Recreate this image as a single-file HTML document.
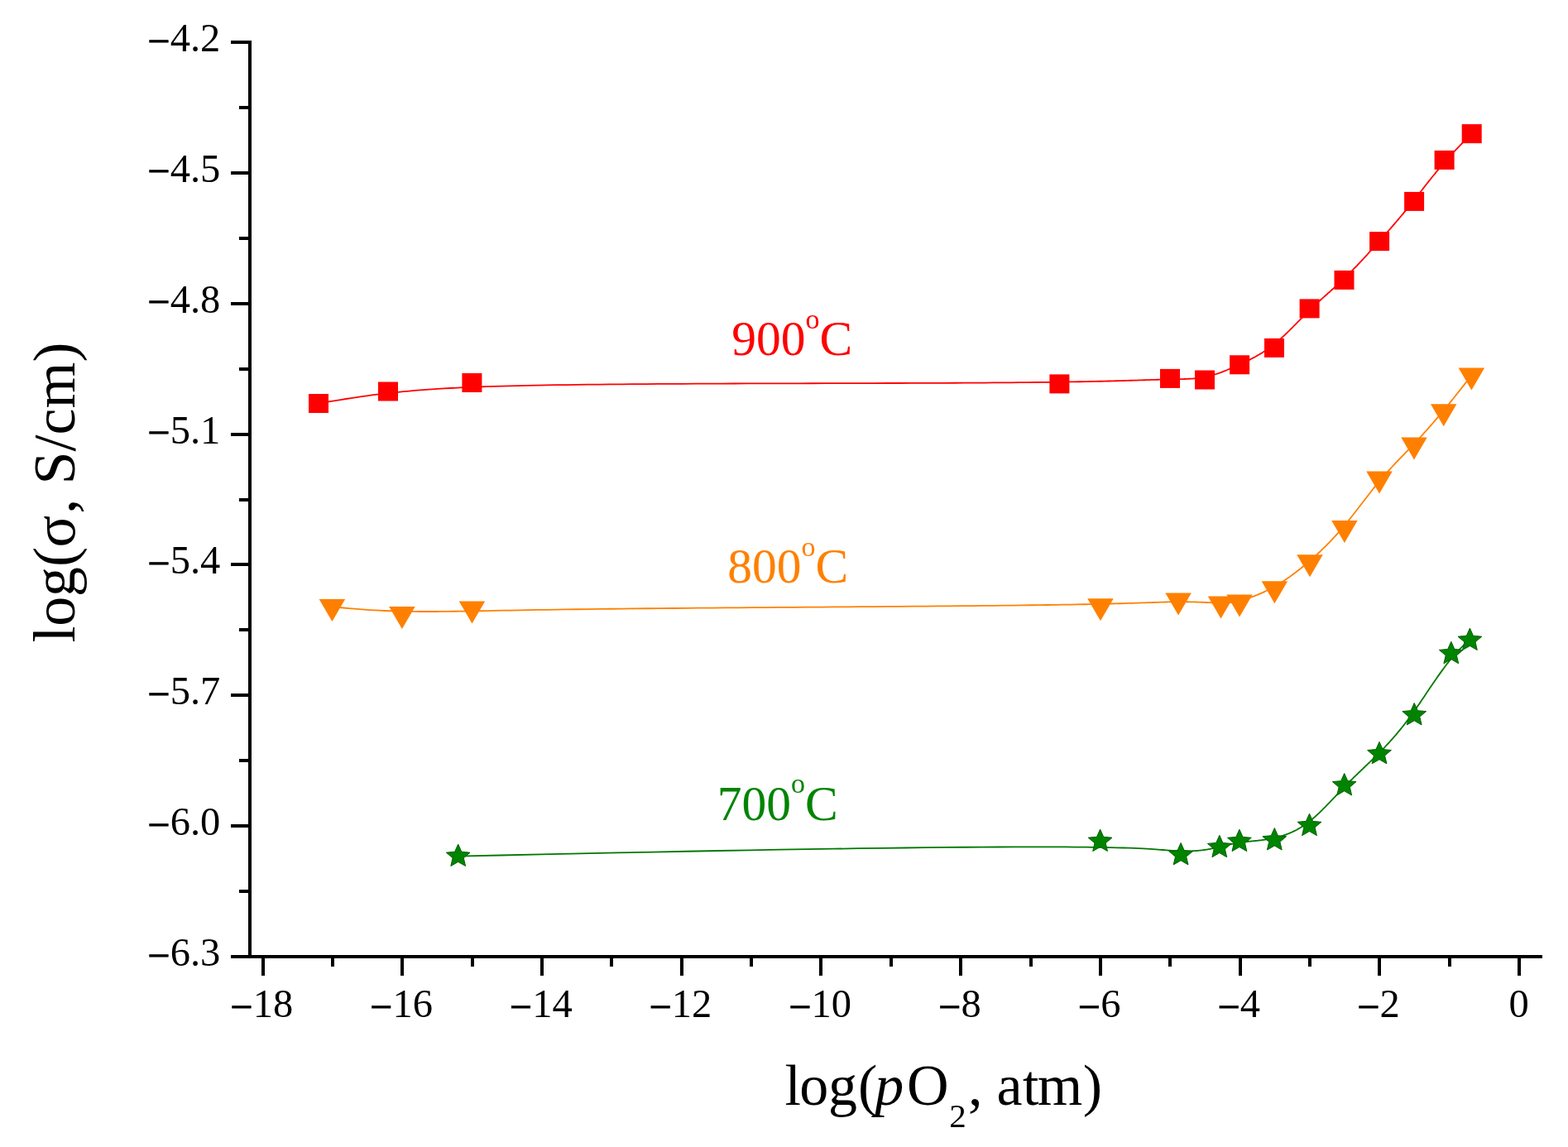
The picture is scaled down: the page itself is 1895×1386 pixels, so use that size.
<!DOCTYPE html><html><head><meta charset="utf-8"><title>log(σ) vs log(pO2)</title>
<style>html,body{margin:0;padding:0;background:#fff;}body{width:1895px;height:1386px;overflow:hidden;}svg{display:block;}text{font-family:"Liberation Serif","Times New Roman",serif;}</style></head><body>
<svg width="1895" height="1386" viewBox="0 0 1895 1386">
<rect width="1895" height="1386" fill="#fff"/>
<g fill="#000" shape-rendering="crispEdges">
<rect x="300" y="49" width="4" height="1109"/>
<rect x="300" y="1154" width="1564" height="4"/>
<rect x="279" y="49.0" width="21" height="4"/>
<rect x="289" y="127.9" width="11" height="4"/>
<rect x="279" y="206.9" width="21" height="4"/>
<rect x="289" y="285.8" width="11" height="4"/>
<rect x="279" y="364.7" width="21" height="4"/>
<rect x="289" y="443.6" width="11" height="4"/>
<rect x="279" y="522.6" width="21" height="4"/>
<rect x="289" y="601.5" width="11" height="4"/>
<rect x="279" y="680.4" width="21" height="4"/>
<rect x="289" y="759.4" width="11" height="4"/>
<rect x="279" y="838.3" width="21" height="4"/>
<rect x="289" y="917.2" width="11" height="4"/>
<rect x="279" y="996.1" width="21" height="4"/>
<rect x="289" y="1075.1" width="11" height="4"/>
<rect x="279" y="1154.0" width="21" height="4"/>
<rect x="315.6" y="1158" width="4" height="21"/>
<rect x="400.0" y="1158" width="4" height="10"/>
<rect x="484.3" y="1158" width="4" height="21"/>
<rect x="568.7" y="1158" width="4" height="10"/>
<rect x="653.0" y="1158" width="4" height="21"/>
<rect x="737.4" y="1158" width="4" height="10"/>
<rect x="821.7" y="1158" width="4" height="21"/>
<rect x="906.1" y="1158" width="4" height="10"/>
<rect x="990.4" y="1158" width="4" height="21"/>
<rect x="1074.8" y="1158" width="4" height="10"/>
<rect x="1159.2" y="1158" width="4" height="21"/>
<rect x="1243.5" y="1158" width="4" height="10"/>
<rect x="1327.9" y="1158" width="4" height="21"/>
<rect x="1412.2" y="1158" width="4" height="10"/>
<rect x="1496.6" y="1158" width="4" height="21"/>
<rect x="1580.9" y="1158" width="4" height="10"/>
<rect x="1665.3" y="1158" width="4" height="21"/>
<rect x="1749.7" y="1158" width="4" height="10"/>
<rect x="1834.0" y="1158" width="4" height="21"/>
</g>
<g font-size="48.5" fill="#000">
<text x="266.3" y="61.9" text-anchor="end"><tspan dy="3.6" stroke="#000" stroke-width="0.7">−</tspan><tspan dy="-3.6">4.2</tspan></text>
<text x="266.3" y="219.8" text-anchor="end"><tspan dy="3.6" stroke="#000" stroke-width="0.7">−</tspan><tspan dy="-3.6">4.5</tspan></text>
<text x="266.3" y="377.6" text-anchor="end"><tspan dy="3.6" stroke="#000" stroke-width="0.7">−</tspan><tspan dy="-3.6">4.8</tspan></text>
<text x="266.3" y="535.5" text-anchor="end"><tspan dy="3.6" stroke="#000" stroke-width="0.7">−</tspan><tspan dy="-3.6">5.1</tspan></text>
<text x="266.3" y="693.3" text-anchor="end"><tspan dy="3.6" stroke="#000" stroke-width="0.7">−</tspan><tspan dy="-3.6">5.4</tspan></text>
<text x="266.3" y="851.2" text-anchor="end"><tspan dy="3.6" stroke="#000" stroke-width="0.7">−</tspan><tspan dy="-3.6">5.7</tspan></text>
<text x="266.3" y="1009.0" text-anchor="end"><tspan dy="3.6" stroke="#000" stroke-width="0.7">−</tspan><tspan dy="-3.6">6.0</tspan></text>
<text x="266.3" y="1166.9" text-anchor="end"><tspan dy="3.6" stroke="#000" stroke-width="0.7">−</tspan><tspan dy="-3.6">6.3</tspan></text>
<text x="316.3" y="1229" text-anchor="middle"><tspan dy="3.6" stroke="#000" stroke-width="0.7">−</tspan><tspan dy="-3.6">18</tspan></text>
<text x="485.0" y="1229" text-anchor="middle"><tspan dy="3.6" stroke="#000" stroke-width="0.7">−</tspan><tspan dy="-3.6">16</tspan></text>
<text x="653.7" y="1229" text-anchor="middle"><tspan dy="3.6" stroke="#000" stroke-width="0.7">−</tspan><tspan dy="-3.6">14</tspan></text>
<text x="822.4" y="1229" text-anchor="middle"><tspan dy="3.6" stroke="#000" stroke-width="0.7">−</tspan><tspan dy="-3.6">12</tspan></text>
<text x="991.1" y="1229" text-anchor="middle"><tspan dy="3.6" stroke="#000" stroke-width="0.7">−</tspan><tspan dy="-3.6">10</tspan></text>
<text x="1159.9" y="1229" text-anchor="middle"><tspan dy="3.6" stroke="#000" stroke-width="0.7">−</tspan><tspan dy="-3.6">8</tspan></text>
<text x="1328.6" y="1229" text-anchor="middle"><tspan dy="3.6" stroke="#000" stroke-width="0.7">−</tspan><tspan dy="-3.6">6</tspan></text>
<text x="1497.3" y="1229" text-anchor="middle"><tspan dy="3.6" stroke="#000" stroke-width="0.7">−</tspan><tspan dy="-3.6">4</tspan></text>
<text x="1666.0" y="1229" text-anchor="middle"><tspan dy="3.6" stroke="#000" stroke-width="0.7">−</tspan><tspan dy="-3.6">2</tspan></text>
<text x="1835.5" y="1229" text-anchor="middle">0</text>
</g>
<text y="1334.5" font-size="70" fill="#000"><tspan x="948.45 966.3 1000.9 1037.1">log(</tspan><tspan x="1057.3" font-style="italic">p</tspan><tspan x="1096.1">O</tspan><tspan x="1147.2" y="1361.8" font-size="41">2</tspan><tspan x="1170.1 1187.6 1204.4 1236 1253.7 1308.8" y="1334.5">, atm)</tspan></text>
<text transform="translate(89.5,775) rotate(-90)" y="0" font-size="72" fill="#000"><tspan x="-1.44 18.26 53.9 90.1 113.5 154.3 172.3 189.6 229.6 249.5 281.5 337.5">log(σ, S/cm)</tspan></text>
<path d="M385.00 487.50 L391.87 486.32 L398.61 485.18 L405.23 484.09 L411.74 483.03 L418.17 482.01 L424.52 481.03 L430.82 480.09 L437.07 479.19 L443.31 478.32 L449.53 477.48 L455.76 476.68 L462.01 475.91 L468.30 475.18 L474.64 474.48 L481.06 473.80 L487.56 473.16 L494.16 472.55 L500.88 471.97 L507.74 471.41 L514.74 470.88 L521.92 470.38 L529.27 469.90 L536.82 469.45 L544.58 469.02 L552.57 468.61 L560.81 468.22 L569.31 467.86 L578.09 467.52 L587.15 467.19 L596.53 466.89 L606.23 466.60 L616.27 466.33 L626.67 466.08 L637.44 465.84 L648.60 465.62 L660.16 465.41 L672.14 465.22 L684.52 465.04 L697.29 464.87 L710.42 464.71 L723.88 464.56 L737.65 464.42 L751.72 464.30 L766.04 464.18 L780.61 464.07 L795.39 463.97 L810.37 463.88 L825.51 463.79 L840.81 463.72 L856.22 463.64 L871.73 463.58 L887.31 463.52 L902.95 463.46 L918.61 463.41 L934.27 463.37 L949.91 463.32 L965.51 463.28 L981.04 463.24 L996.47 463.20 L1011.79 463.17 L1026.97 463.13 L1041.99 463.09 L1056.82 463.06 L1071.44 463.02 L1085.82 462.98 L1099.95 462.94 L1113.79 462.90 L1127.32 462.85 L1140.53 462.80 L1153.38 462.74 L1165.85 462.69 L1177.93 462.62 L1189.57 462.55 L1200.79 462.47 L1211.58 462.39 L1221.96 462.31 L1231.94 462.22 L1241.52 462.12 L1250.72 462.02 L1259.55 461.92 L1268.01 461.81 L1276.13 461.70 L1283.90 461.58 L1291.34 461.47 L1298.46 461.35 L1305.26 461.23 L1311.77 461.11 L1317.98 460.99 L1323.91 460.86 L1329.57 460.74 L1334.97 460.61 L1340.12 460.49 L1345.03 460.37 L1349.71 460.24 L1354.17 460.12 L1358.42 460.00 L1362.47 459.89 L1366.33 459.77 L1370.01 459.66 L1373.52 459.55 L1376.87 459.44 L1380.07 459.34 L1383.14 459.24 L1386.07 459.14 L1388.89 459.05 L1391.60 458.96 L1394.21 458.88 L1396.73 458.81 L1399.17 458.74 L1401.55 458.67 L1403.85 458.62 L1406.09 458.56 L1408.27 458.51 L1410.39 458.47 L1412.44 458.43 L1414.44 458.39 L1416.38 458.35 L1418.27 458.31 L1420.11 458.28 L1421.89 458.24 L1423.63 458.21 L1425.33 458.17 L1426.97 458.13 L1428.58 458.09 L1430.14 458.05 L1431.67 458.00 L1433.16 457.95 L1434.62 457.90 L1436.04 457.84 L1437.43 457.77 L1438.79 457.70 L1440.13 457.62 L1441.44 457.54 L1442.73 457.45 L1443.99 457.34 L1445.24 457.23 L1446.47 457.11 L1447.68 456.98 L1448.88 456.84 L1450.07 456.68 L1451.25 456.52 L1452.42 456.34 L1453.59 456.15 L1454.75 455.94 L1455.91 455.72 L1457.07 455.49 L1458.23 455.24 L1459.39 454.97 L1460.55 454.69 L1461.71 454.40 L1462.87 454.10 L1464.03 453.78 L1465.19 453.45 L1466.35 453.11 L1467.51 452.75 L1468.67 452.39 L1469.83 452.01 L1470.99 451.62 L1472.15 451.23 L1473.31 450.82 L1474.47 450.40 L1475.62 449.98 L1476.78 449.54 L1477.94 449.10 L1479.10 448.65 L1480.26 448.19 L1481.42 447.72 L1482.58 447.25 L1483.74 446.77 L1484.90 446.28 L1486.06 445.79 L1487.22 445.29 L1488.38 444.79 L1489.54 444.28 L1490.70 443.77 L1491.85 443.25 L1493.01 442.73 L1494.17 442.21 L1495.33 441.69 L1496.49 441.16 L1497.65 440.63 L1498.80 440.09 L1499.96 439.56 L1501.12 439.02 L1502.28 438.48 L1503.43 437.94 L1504.59 437.39 L1505.75 436.84 L1506.91 436.28 L1508.06 435.72 L1509.22 435.15 L1510.38 434.57 L1511.54 433.99 L1512.69 433.40 L1513.85 432.80 L1515.01 432.19 L1516.17 431.58 L1517.32 430.95 L1518.48 430.31 L1519.64 429.66 L1520.80 429.00 L1521.96 428.33 L1523.12 427.65 L1524.27 426.95 L1525.43 426.24 L1526.59 425.52 L1527.75 424.78 L1528.91 424.02 L1530.07 423.25 L1531.24 422.47 L1532.40 421.67 L1533.56 420.85 L1534.72 420.01 L1535.88 419.15 L1537.05 418.28 L1538.21 417.39 L1539.38 416.47 L1540.54 415.54 L1541.71 414.59 L1542.87 413.62 L1544.04 412.62 L1545.20 411.61 L1546.37 410.59 L1547.54 409.55 L1548.71 408.49 L1549.87 407.42 L1551.04 406.33 L1552.21 405.23 L1553.38 404.12 L1554.55 403.00 L1555.72 401.87 L1556.89 400.73 L1558.06 399.58 L1559.23 398.42 L1560.40 397.26 L1561.57 396.09 L1562.74 394.91 L1563.90 393.74 L1565.07 392.55 L1566.24 391.37 L1567.41 390.18 L1568.58 388.99 L1569.75 387.80 L1570.92 386.62 L1572.09 385.43 L1573.26 384.25 L1574.42 383.07 L1575.59 381.89 L1576.76 380.72 L1577.93 379.55 L1579.09 378.39 L1580.26 377.24 L1581.42 376.10 L1582.59 374.96 L1583.75 373.84 L1584.92 372.72 L1586.08 371.62 L1587.24 370.52 L1588.41 369.43 L1589.57 368.35 L1590.73 367.27 L1591.89 366.20 L1593.05 365.13 L1594.22 364.07 L1595.38 363.02 L1596.54 361.97 L1597.70 360.92 L1598.86 359.87 L1600.02 358.83 L1601.18 357.79 L1602.34 356.75 L1603.50 355.71 L1604.66 354.67 L1605.82 353.63 L1606.98 352.60 L1608.14 351.56 L1609.30 350.51 L1610.46 349.47 L1611.62 348.42 L1612.78 347.37 L1613.94 346.31 L1615.10 345.25 L1616.26 344.19 L1617.43 343.12 L1618.59 342.04 L1619.75 340.96 L1620.91 339.87 L1622.08 338.77 L1623.24 337.67 L1624.40 336.55 L1625.57 335.43 L1626.74 334.30 L1627.90 333.16 L1629.07 332.01 L1630.23 330.85 L1631.40 329.68 L1632.57 328.50 L1633.74 327.32 L1634.91 326.13 L1636.07 324.93 L1637.24 323.73 L1638.41 322.52 L1639.58 321.30 L1640.75 320.07 L1641.92 318.84 L1643.09 317.60 L1644.26 316.36 L1645.43 315.11 L1646.60 313.86 L1647.77 312.60 L1648.94 311.34 L1650.11 310.07 L1651.28 308.80 L1652.45 307.52 L1653.62 306.24 L1654.79 304.96 L1655.96 303.67 L1657.13 302.38 L1658.30 301.08 L1659.46 299.79 L1660.63 298.49 L1661.80 297.19 L1662.97 295.88 L1664.14 294.58 L1665.30 293.27 L1666.47 291.96 L1667.64 290.65 L1668.80 289.34 L1669.97 288.03 L1671.13 286.71 L1672.30 285.39 L1673.47 284.07 L1674.64 282.75 L1675.81 281.42 L1676.98 280.08 L1678.15 278.74 L1679.33 277.39 L1680.51 276.04 L1681.69 274.68 L1682.87 273.31 L1684.06 271.93 L1685.25 270.55 L1686.44 269.15 L1687.64 267.75 L1688.85 266.33 L1690.05 264.91 L1691.27 263.47 L1692.49 262.02 L1693.71 260.56 L1694.94 259.08 L1696.18 257.59 L1697.42 256.09 L1698.67 254.57 L1699.92 253.04 L1701.19 251.49 L1702.46 249.92 L1703.74 248.34 L1705.02 246.74 L1706.32 245.13 L1707.62 243.49 L1708.94 241.84 L1710.26 240.16 L1711.59 238.47 L1712.93 236.76 L1714.28 235.02 L1715.65 233.26 L1717.03 231.49 L1718.43 229.69 L1719.85 227.87 L1721.28 226.02 L1722.74 224.16 L1724.22 222.27 L1725.73 220.36 L1727.26 218.43 L1728.82 216.47 L1730.40 214.48 L1732.02 212.48 L1733.67 210.45 L1735.36 208.39 L1737.08 206.31 L1738.84 204.20 L1740.64 202.07 L1742.47 199.91 L1744.35 197.73 L1746.28 195.52 L1748.25 193.28 L1750.26 191.01 L1752.33 188.72 L1754.44 186.40 L1756.61 184.05 L1758.83 181.67 L1761.10 179.27 L1763.44 176.83 L1765.83 174.37 L1768.27 171.88 L1770.78 169.35 L1773.36 166.80 L1776.00 164.21 L1778.70 161.60" fill="none" stroke="#ff0000" stroke-width="1.8" stroke-linejoin="round"/>
<path d="M401.40 733.10 L408.30 733.82 L415.02 734.48 L421.58 735.09 L428.01 735.64 L434.32 736.15 L440.54 736.61 L446.67 737.03 L452.74 737.40 L458.76 737.72 L464.76 738.01 L470.75 738.26 L476.75 738.47 L482.79 738.64 L488.87 738.78 L495.02 738.88 L501.26 738.96 L507.60 739.00 L514.06 739.02 L520.67 739.02 L527.43 738.98 L534.38 738.93 L541.52 738.86 L548.88 738.76 L556.47 738.65 L564.31 738.53 L572.43 738.39 L580.84 738.23 L589.55 738.07 L598.60 737.90 L607.99 737.72 L617.74 737.54 L627.87 737.35 L638.41 737.16 L649.37 736.97 L660.77 736.78 L672.62 736.59 L684.94 736.41 L697.73 736.23 L710.95 736.06 L724.58 735.90 L738.59 735.73 L752.95 735.57 L767.63 735.42 L782.61 735.27 L797.87 735.12 L813.36 734.98 L829.07 734.84 L844.97 734.70 L861.04 734.56 L877.24 734.43 L893.54 734.30 L909.93 734.17 L926.37 734.05 L942.83 733.92 L959.29 733.80 L975.73 733.67 L992.11 733.55 L1008.40 733.43 L1024.59 733.31 L1040.64 733.19 L1056.52 733.07 L1072.21 732.95 L1087.69 732.83 L1102.91 732.71 L1117.87 732.59 L1132.52 732.46 L1146.85 732.34 L1160.82 732.21 L1174.41 732.09 L1187.59 731.96 L1200.33 731.82 L1212.61 731.69 L1224.40 731.55 L1235.69 731.42 L1246.49 731.27 L1256.82 731.13 L1266.69 730.99 L1276.11 730.84 L1285.10 730.69 L1293.66 730.55 L1301.82 730.40 L1309.58 730.25 L1316.96 730.10 L1323.97 729.95 L1330.62 729.81 L1336.93 729.66 L1342.91 729.52 L1348.58 729.37 L1353.93 729.23 L1359.00 729.09 L1363.79 728.96 L1368.32 728.82 L1372.59 728.69 L1376.62 728.57 L1380.43 728.44 L1384.03 728.32 L1387.42 728.21 L1390.63 728.10 L1393.67 727.99 L1396.54 727.89 L1399.27 727.80 L1401.86 727.71 L1404.34 727.63 L1406.70 727.55 L1408.97 727.48 L1411.15 727.42 L1413.27 727.36 L1415.33 727.32 L1417.35 727.28 L1419.33 727.24 L1421.28 727.22 L1423.20 727.20 L1425.09 727.19 L1426.95 727.19 L1428.77 727.19 L1430.57 727.20 L1432.33 727.22 L1434.07 727.24 L1435.77 727.26 L1437.45 727.29 L1439.09 727.33 L1440.71 727.37 L1442.30 727.41 L1443.86 727.45 L1445.39 727.50 L1446.90 727.55 L1448.37 727.60 L1449.82 727.65 L1451.25 727.71 L1452.64 727.77 L1454.01 727.82 L1455.36 727.88 L1456.68 727.94 L1457.97 727.99 L1459.24 728.05 L1460.48 728.10 L1461.70 728.16 L1462.89 728.21 L1464.06 728.26 L1465.21 728.31 L1466.33 728.35 L1467.43 728.39 L1468.50 728.43 L1469.56 728.47 L1470.59 728.50 L1471.60 728.52 L1472.59 728.54 L1473.56 728.56 L1474.51 728.57 L1475.44 728.58 L1476.35 728.58 L1477.25 728.57 L1478.14 728.56 L1479.01 728.54 L1479.86 728.52 L1480.71 728.49 L1481.55 728.46 L1482.37 728.41 L1483.19 728.37 L1483.99 728.31 L1484.80 728.25 L1485.59 728.18 L1486.38 728.10 L1487.17 728.01 L1487.96 727.92 L1488.74 727.82 L1489.52 727.71 L1490.31 727.59 L1491.09 727.46 L1491.88 727.33 L1492.67 727.19 L1493.46 727.03 L1494.26 726.87 L1495.07 726.70 L1495.89 726.52 L1496.71 726.33 L1497.54 726.13 L1498.39 725.92 L1499.24 725.70 L1500.11 725.47 L1500.99 725.22 L1501.89 724.97 L1502.80 724.71 L1503.73 724.43 L1504.67 724.15 L1505.62 723.85 L1506.59 723.55 L1507.57 723.23 L1508.56 722.90 L1509.56 722.56 L1510.58 722.21 L1511.60 721.85 L1512.64 721.47 L1513.69 721.09 L1514.75 720.69 L1515.81 720.29 L1516.89 719.87 L1517.98 719.44 L1519.07 719.00 L1520.17 718.55 L1521.28 718.08 L1522.39 717.61 L1523.52 717.12 L1524.64 716.62 L1525.78 716.11 L1526.92 715.59 L1528.06 715.06 L1529.21 714.52 L1530.36 713.96 L1531.52 713.39 L1532.68 712.81 L1533.84 712.22 L1535.01 711.62 L1536.18 711.00 L1537.35 710.38 L1538.52 709.74 L1539.69 709.09 L1540.86 708.42 L1542.03 707.75 L1543.20 707.06 L1544.38 706.36 L1545.55 705.65 L1546.72 704.93 L1547.89 704.20 L1549.06 703.46 L1550.24 702.70 L1551.41 701.94 L1552.58 701.16 L1553.75 700.37 L1554.93 699.58 L1556.10 698.77 L1557.27 697.95 L1558.44 697.12 L1559.61 696.29 L1560.78 695.44 L1561.96 694.58 L1563.13 693.71 L1564.30 692.84 L1565.47 691.95 L1566.64 691.06 L1567.81 690.16 L1568.98 689.24 L1570.15 688.32 L1571.32 687.39 L1572.49 686.46 L1573.66 685.51 L1574.82 684.55 L1575.99 683.59 L1577.16 682.62 L1578.33 681.64 L1579.49 680.66 L1580.66 679.67 L1581.82 678.67 L1582.99 677.66 L1584.15 676.64 L1585.32 675.62 L1586.48 674.59 L1587.64 673.56 L1588.81 672.51 L1589.97 671.46 L1591.13 670.40 L1592.29 669.33 L1593.45 668.25 L1594.61 667.16 L1595.77 666.07 L1596.93 664.96 L1598.09 663.85 L1599.25 662.72 L1600.41 661.59 L1601.57 660.45 L1602.73 659.29 L1603.89 658.13 L1605.05 656.96 L1606.20 655.77 L1607.36 654.58 L1608.52 653.37 L1609.68 652.15 L1610.83 650.92 L1611.99 649.68 L1613.15 648.43 L1614.31 647.17 L1615.46 645.89 L1616.62 644.60 L1617.78 643.30 L1618.93 641.99 L1620.09 640.66 L1621.25 639.32 L1622.41 637.97 L1623.57 636.60 L1624.72 635.22 L1625.88 633.83 L1627.04 632.42 L1628.20 631.00 L1629.36 629.57 L1630.51 628.13 L1631.67 626.67 L1632.83 625.21 L1633.99 623.74 L1635.15 622.26 L1636.31 620.78 L1637.47 619.29 L1638.63 617.79 L1639.79 616.29 L1640.95 614.78 L1642.10 613.27 L1643.26 611.76 L1644.42 610.25 L1645.58 608.74 L1646.74 607.22 L1647.90 605.71 L1649.06 604.20 L1650.22 602.69 L1651.38 601.18 L1652.54 599.68 L1653.70 598.18 L1654.86 596.68 L1656.02 595.19 L1657.18 593.71 L1658.34 592.24 L1659.50 590.77 L1660.66 589.32 L1661.82 587.87 L1662.98 586.44 L1664.14 585.01 L1665.30 583.60 L1666.46 582.20 L1667.62 580.81 L1668.77 579.44 L1669.93 578.08 L1671.09 576.73 L1672.26 575.40 L1673.42 574.07 L1674.58 572.75 L1675.75 571.44 L1676.91 570.15 L1678.08 568.85 L1679.25 567.57 L1680.43 566.29 L1681.60 565.01 L1682.78 563.74 L1683.96 562.47 L1685.15 561.21 L1686.34 559.94 L1687.53 558.68 L1688.73 557.42 L1689.93 556.15 L1691.14 554.89 L1692.35 553.62 L1693.57 552.35 L1694.79 551.08 L1696.02 549.80 L1697.25 548.52 L1698.49 547.23 L1699.74 545.93 L1700.99 544.63 L1702.25 543.31 L1703.52 541.99 L1704.79 540.66 L1706.07 539.32 L1707.36 537.96 L1708.66 536.59 L1709.97 535.21 L1711.28 533.82 L1712.61 532.41 L1713.94 530.98 L1715.29 529.53 L1716.66 528.06 L1718.03 526.56 L1719.43 525.04 L1720.85 523.48 L1722.29 521.90 L1723.75 520.27 L1725.23 518.61 L1726.75 516.90 L1728.29 515.16 L1729.86 513.36 L1731.47 511.52 L1733.10 509.63 L1734.78 507.68 L1736.49 505.68 L1738.24 503.62 L1740.03 501.49 L1741.86 499.30 L1743.74 497.05 L1745.66 494.73 L1747.63 492.33 L1749.65 489.86 L1751.73 487.31 L1753.85 484.69 L1756.03 481.98 L1758.27 479.19 L1760.56 476.31 L1762.91 473.34 L1765.33 470.28 L1767.81 467.12 L1770.36 463.87 L1772.97 460.52 L1775.65 457.06 L1778.40 453.50" fill="none" stroke="#ff8000" stroke-width="1.8" stroke-linejoin="round"/>
<path d="M553.70 1034.70 L605.10 1033.52 L654.33 1032.42 L701.44 1031.40 L746.48 1030.44 L789.49 1029.56 L830.53 1028.75 L869.64 1028.01 L906.88 1027.33 L942.28 1026.71 L975.91 1026.15 L1007.81 1025.65 L1038.02 1025.21 L1066.60 1024.82 L1093.60 1024.48 L1119.06 1024.19 L1143.04 1023.95 L1165.58 1023.76 L1186.73 1023.60 L1206.54 1023.49 L1225.07 1023.41 L1242.35 1023.37 L1258.44 1023.37 L1273.38 1023.40 L1287.24 1023.45 L1300.04 1023.53 L1311.85 1023.64 L1322.71 1023.78 L1332.68 1023.93 L1341.79 1024.10 L1350.10 1024.29 L1357.66 1024.49 L1364.52 1024.70 L1370.72 1024.93 L1376.32 1025.16 L1381.36 1025.39 L1385.90 1025.63 L1389.97 1025.87 L1393.64 1026.11 L1396.94 1026.35 L1399.94 1026.58 L1402.67 1026.81 L1405.19 1027.02 L1407.54 1027.22 L1409.78 1027.41 L1411.95 1027.58 L1414.07 1027.73 L1416.13 1027.87 L1418.15 1027.99 L1420.13 1028.10 L1422.05 1028.19 L1423.93 1028.26 L1425.77 1028.32 L1427.56 1028.37 L1429.31 1028.40 L1431.02 1028.42 L1432.68 1028.43 L1434.31 1028.43 L1435.89 1028.41 L1437.44 1028.38 L1438.95 1028.34 L1440.42 1028.29 L1441.86 1028.23 L1443.26 1028.16 L1444.63 1028.08 L1445.96 1027.99 L1447.27 1027.89 L1448.54 1027.79 L1449.78 1027.67 L1450.99 1027.55 L1452.17 1027.42 L1453.32 1027.29 L1454.45 1027.14 L1455.55 1027.00 L1456.62 1026.84 L1457.67 1026.69 L1458.70 1026.52 L1459.70 1026.36 L1460.68 1026.19 L1461.64 1026.01 L1462.59 1025.84 L1463.51 1025.66 L1464.41 1025.48 L1465.30 1025.30 L1466.17 1025.11 L1467.02 1024.93 L1467.86 1024.74 L1468.69 1024.56 L1469.50 1024.37 L1470.30 1024.19 L1471.09 1024.01 L1471.87 1023.82 L1472.63 1023.64 L1473.39 1023.46 L1474.14 1023.29 L1474.88 1023.11 L1475.61 1022.93 L1476.33 1022.76 L1477.05 1022.59 L1477.76 1022.41 L1478.46 1022.24 L1479.15 1022.08 L1479.84 1021.91 L1480.53 1021.74 L1481.21 1021.58 L1481.88 1021.42 L1482.55 1021.26 L1483.22 1021.10 L1483.89 1020.94 L1484.55 1020.79 L1485.21 1020.63 L1485.87 1020.48 L1486.53 1020.33 L1487.19 1020.19 L1487.84 1020.04 L1488.50 1019.90 L1489.16 1019.76 L1489.82 1019.62 L1490.48 1019.48 L1491.15 1019.35 L1491.81 1019.21 L1492.49 1019.08 L1493.16 1018.96 L1493.84 1018.83 L1494.52 1018.71 L1495.21 1018.59 L1495.90 1018.47 L1496.60 1018.35 L1497.31 1018.24 L1498.02 1018.13 L1498.74 1018.02 L1499.47 1017.92 L1500.20 1017.82 L1500.95 1017.72 L1501.70 1017.62 L1502.47 1017.53 L1503.24 1017.43 L1504.02 1017.34 L1504.81 1017.26 L1505.61 1017.17 L1506.42 1017.08 L1507.23 1017.00 L1508.05 1016.92 L1508.88 1016.83 L1509.72 1016.75 L1510.56 1016.67 L1511.41 1016.59 L1512.27 1016.51 L1513.13 1016.42 L1514.00 1016.34 L1514.87 1016.25 L1515.75 1016.17 L1516.64 1016.08 L1517.53 1015.99 L1518.43 1015.90 L1519.33 1015.80 L1520.23 1015.70 L1521.14 1015.60 L1522.06 1015.50 L1522.98 1015.40 L1523.90 1015.29 L1524.82 1015.17 L1525.75 1015.05 L1526.68 1014.93 L1527.62 1014.81 L1528.56 1014.67 L1529.50 1014.54 L1530.44 1014.40 L1531.39 1014.25 L1532.33 1014.10 L1533.28 1013.94 L1534.23 1013.77 L1535.18 1013.60 L1536.13 1013.42 L1537.09 1013.24 L1538.04 1013.05 L1538.99 1012.85 L1539.95 1012.64 L1540.90 1012.42 L1541.86 1012.20 L1542.81 1011.97 L1543.76 1011.73 L1544.72 1011.48 L1545.67 1011.22 L1546.63 1010.95 L1547.58 1010.67 L1548.53 1010.39 L1549.49 1010.09 L1550.44 1009.79 L1551.39 1009.47 L1552.34 1009.15 L1553.30 1008.81 L1554.25 1008.47 L1555.20 1008.11 L1556.16 1007.74 L1557.11 1007.36 L1558.06 1006.97 L1559.01 1006.57 L1559.97 1006.16 L1560.92 1005.74 L1561.87 1005.30 L1562.82 1004.85 L1563.78 1004.39 L1564.73 1003.92 L1565.68 1003.43 L1566.63 1002.93 L1567.59 1002.42 L1568.54 1001.90 L1569.49 1001.36 L1570.44 1000.81 L1571.39 1000.24 L1572.35 999.67 L1573.30 999.07 L1574.25 998.47 L1575.20 997.84 L1576.15 997.21 L1577.11 996.56 L1578.06 995.89 L1579.01 995.21 L1579.96 994.52 L1580.91 993.80 L1581.87 993.08 L1582.82 992.33 L1583.77 991.58 L1584.72 990.80 L1585.67 990.01 L1586.62 989.21 L1587.58 988.39 L1588.53 987.56 L1589.48 986.72 L1590.43 985.86 L1591.38 985.00 L1592.34 984.12 L1593.29 983.23 L1594.24 982.33 L1595.19 981.42 L1596.14 980.50 L1597.10 979.57 L1598.05 978.63 L1599.00 977.69 L1599.95 976.73 L1600.90 975.77 L1601.86 974.81 L1602.81 973.83 L1603.76 972.86 L1604.71 971.87 L1605.67 970.88 L1606.62 969.89 L1607.57 968.89 L1608.52 967.89 L1609.47 966.89 L1610.43 965.89 L1611.38 964.88 L1612.33 963.87 L1613.28 962.86 L1614.24 961.85 L1615.19 960.85 L1616.14 959.84 L1617.09 958.83 L1618.05 957.82 L1619.00 956.82 L1619.95 955.82 L1620.91 954.82 L1621.86 953.83 L1622.81 952.83 L1623.76 951.85 L1624.72 950.87 L1625.67 949.89 L1626.62 948.92 L1627.58 947.95 L1628.53 946.99 L1629.48 946.03 L1630.44 945.08 L1631.39 944.13 L1632.34 943.19 L1633.30 942.25 L1634.25 941.31 L1635.20 940.38 L1636.16 939.44 L1637.11 938.51 L1638.06 937.59 L1639.02 936.66 L1639.97 935.74 L1640.92 934.82 L1641.88 933.90 L1642.83 932.99 L1643.78 932.07 L1644.74 931.15 L1645.69 930.24 L1646.64 929.33 L1647.60 928.41 L1648.55 927.50 L1649.51 926.58 L1650.46 925.67 L1651.41 924.76 L1652.37 923.84 L1653.32 922.92 L1654.27 922.01 L1655.23 921.09 L1656.18 920.16 L1657.13 919.24 L1658.09 918.32 L1659.04 917.39 L1659.99 916.46 L1660.95 915.52 L1661.90 914.59 L1662.85 913.65 L1663.81 912.71 L1664.76 911.76 L1665.71 910.81 L1666.67 909.85 L1667.62 908.89 L1668.57 907.93 L1669.53 906.96 L1670.48 905.98 L1671.43 905.00 L1672.39 904.01 L1673.35 903.01 L1674.31 902.00 L1675.27 900.99 L1676.24 899.96 L1677.20 898.92 L1678.17 897.88 L1679.15 896.82 L1680.12 895.74 L1681.10 894.66 L1682.09 893.56 L1683.08 892.44 L1684.07 891.31 L1685.07 890.17 L1686.08 889.01 L1687.09 887.83 L1688.10 886.63 L1689.12 885.42 L1690.15 884.18 L1691.19 882.93 L1692.23 881.66 L1693.28 880.36 L1694.33 879.05 L1695.40 877.71 L1696.47 876.35 L1697.55 874.96 L1698.64 873.55 L1699.74 872.12 L1700.85 870.66 L1701.97 869.18 L1703.09 867.67 L1704.23 866.13 L1705.38 864.56 L1706.54 862.97 L1707.71 861.35 L1708.89 859.69 L1710.08 858.01 L1711.28 856.30 L1712.50 854.55 L1713.73 852.77 L1714.97 850.96 L1716.22 849.12 L1717.49 847.25 L1718.76 845.36 L1720.05 843.44 L1721.35 841.50 L1722.66 839.54 L1723.98 837.57 L1725.31 835.58 L1726.65 833.58 L1728.01 831.57 L1729.37 829.55 L1730.74 827.53 L1732.12 825.50 L1733.50 823.47 L1734.90 821.44 L1736.30 819.41 L1737.72 817.39 L1739.14 815.37 L1740.57 813.37 L1742.00 811.37 L1743.44 809.39 L1744.89 807.43 L1746.35 805.48 L1747.81 803.55 L1749.28 801.65 L1750.75 799.77 L1752.23 797.92 L1753.71 796.10 L1755.20 794.30 L1756.69 792.54 L1758.19 790.82 L1759.69 789.14 L1761.20 787.49 L1762.71 785.89 L1764.22 784.33 L1765.73 782.81 L1767.25 781.35 L1768.77 779.93 L1770.29 778.57 L1771.82 777.27 L1773.34 776.02 L1774.87 774.83 L1776.40 773.70" fill="none" stroke="#007800" stroke-width="1.8" stroke-linejoin="round"/>
<rect x="373.00" y="476.00" width="24.0" height="23.0" fill="#ff0000"/>
<rect x="457.00" y="461.50" width="24.0" height="23.0" fill="#ff0000"/>
<rect x="558.40" y="451.00" width="24.0" height="23.0" fill="#ff0000"/>
<rect x="1268.40" y="452.40" width="24.0" height="23.0" fill="#ff0000"/>
<rect x="1402.00" y="445.90" width="24.0" height="23.0" fill="#ff0000"/>
<rect x="1444.00" y="447.50" width="24.0" height="23.0" fill="#ff0000"/>
<rect x="1486.10" y="429.30" width="24.0" height="23.0" fill="#ff0000"/>
<rect x="1528.00" y="408.90" width="24.0" height="23.0" fill="#ff0000"/>
<rect x="1570.60" y="361.40" width="24.0" height="23.0" fill="#ff0000"/>
<rect x="1612.50" y="326.90" width="24.0" height="23.0" fill="#ff0000"/>
<rect x="1655.10" y="280.10" width="24.0" height="23.0" fill="#ff0000"/>
<rect x="1697.10" y="231.90" width="24.0" height="23.0" fill="#ff0000"/>
<rect x="1733.60" y="181.90" width="24.0" height="23.0" fill="#ff0000"/>
<rect x="1766.70" y="150.10" width="24.0" height="23.0" fill="#ff0000"/>
<path d="M385.65 724.10H417.15L401.40 751.10Z" fill="#ff8000"/>
<path d="M470.15 733.10H501.65L485.90 760.10Z" fill="#ff8000"/>
<path d="M554.75 726.40H586.25L570.50 753.40Z" fill="#ff8000"/>
<path d="M1314.25 723.20H1345.75L1330.00 750.20Z" fill="#ff8000"/>
<path d="M1408.35 716.50H1439.85L1424.10 743.50Z" fill="#ff8000"/>
<path d="M1459.75 720.50H1491.25L1475.50 747.50Z" fill="#ff8000"/>
<path d="M1482.25 718.50H1513.75L1498.00 745.50Z" fill="#ff8000"/>
<path d="M1524.65 702.30H1556.15L1540.40 729.30Z" fill="#ff8000"/>
<path d="M1567.25 670.30H1598.75L1583.00 697.30Z" fill="#ff8000"/>
<path d="M1609.15 629.00H1640.65L1624.90 656.00Z" fill="#ff8000"/>
<path d="M1651.25 569.50H1682.75L1667.00 596.50Z" fill="#ff8000"/>
<path d="M1693.25 528.40H1724.75L1709.00 555.40Z" fill="#ff8000"/>
<path d="M1728.95 488.20H1760.45L1744.70 515.20Z" fill="#ff8000"/>
<path d="M1762.65 444.50H1794.15L1778.40 471.50Z" fill="#ff8000"/>
<path d="M553.70 1020.10 L557.78 1029.28 L568.07 1030.19 L560.30 1036.77 L562.58 1046.51 L553.70 1041.40 L544.82 1046.51 L547.10 1036.77 L539.33 1030.19 L549.62 1029.28Z" fill="#008400" stroke="#005f00" stroke-width="1" stroke-linejoin="miter"/>
<path d="M1329.60 1002.10 L1333.68 1011.28 L1343.97 1012.19 L1336.20 1018.77 L1338.48 1028.51 L1329.60 1023.40 L1320.72 1028.51 L1323.00 1018.77 L1315.23 1012.19 L1325.52 1011.28Z" fill="#008400" stroke="#005f00" stroke-width="1" stroke-linejoin="miter"/>
<path d="M1427.10 1018.50 L1431.18 1027.68 L1441.47 1028.59 L1433.70 1035.17 L1435.98 1044.91 L1427.10 1039.80 L1418.22 1044.91 L1420.50 1035.17 L1412.73 1028.59 L1423.02 1027.68Z" fill="#008400" stroke="#005f00" stroke-width="1" stroke-linejoin="miter"/>
<path d="M1473.80 1009.30 L1477.88 1018.48 L1488.17 1019.39 L1480.40 1025.97 L1482.68 1035.71 L1473.80 1030.60 L1464.92 1035.71 L1467.20 1025.97 L1459.43 1019.39 L1469.72 1018.48Z" fill="#008400" stroke="#005f00" stroke-width="1" stroke-linejoin="miter"/>
<path d="M1497.90 1002.20 L1501.98 1011.38 L1512.27 1012.29 L1504.50 1018.87 L1506.78 1028.61 L1497.90 1023.50 L1489.02 1028.61 L1491.30 1018.87 L1483.53 1012.29 L1493.82 1011.38Z" fill="#008400" stroke="#005f00" stroke-width="1" stroke-linejoin="miter"/>
<path d="M1540.30 1000.60 L1544.38 1009.78 L1554.67 1010.69 L1546.90 1017.27 L1549.18 1027.01 L1540.30 1021.90 L1531.42 1027.01 L1533.70 1017.27 L1525.93 1010.69 L1536.22 1009.78Z" fill="#008400" stroke="#005f00" stroke-width="1" stroke-linejoin="miter"/>
<path d="M1582.50 983.20 L1586.58 992.38 L1596.87 993.29 L1589.10 999.87 L1591.38 1009.61 L1582.50 1004.50 L1573.62 1009.61 L1575.90 999.87 L1568.13 993.29 L1578.42 992.38Z" fill="#008400" stroke="#005f00" stroke-width="1" stroke-linejoin="miter"/>
<path d="M1624.70 934.50 L1628.78 943.68 L1639.07 944.59 L1631.30 951.17 L1633.58 960.91 L1624.70 955.80 L1615.82 960.91 L1618.10 951.17 L1610.33 944.59 L1620.62 943.68Z" fill="#008400" stroke="#005f00" stroke-width="1" stroke-linejoin="miter"/>
<path d="M1667.00 896.40 L1671.08 905.58 L1681.37 906.49 L1673.60 913.07 L1675.88 922.81 L1667.00 917.70 L1658.12 922.81 L1660.40 913.07 L1652.63 906.49 L1662.92 905.58Z" fill="#008400" stroke="#005f00" stroke-width="1" stroke-linejoin="miter"/>
<path d="M1709.20 849.50 L1713.28 858.68 L1723.57 859.59 L1715.80 866.17 L1718.08 875.91 L1709.20 870.80 L1700.32 875.91 L1702.60 866.17 L1694.83 859.59 L1705.12 858.68Z" fill="#008400" stroke="#005f00" stroke-width="1" stroke-linejoin="miter"/>
<path d="M1753.80 775.30 L1757.88 784.48 L1768.17 785.39 L1760.40 791.97 L1762.68 801.71 L1753.80 796.60 L1744.92 801.71 L1747.20 791.97 L1739.43 785.39 L1749.72 784.48Z" fill="#008400" stroke="#005f00" stroke-width="1" stroke-linejoin="miter"/>
<path d="M1776.40 759.10 L1780.48 768.28 L1790.77 769.19 L1783.00 775.77 L1785.28 785.51 L1776.40 780.40 L1767.52 785.51 L1769.80 775.77 L1762.03 769.19 L1772.32 768.28Z" fill="#008400" stroke="#005f00" stroke-width="1" stroke-linejoin="miter"/>
<text x="884.2" y="429.1" font-size="59.5" fill="#ff0000">900<tspan font-size="34" dy="-32.5">o</tspan><tspan dy="32.5">C</tspan></text>
<text x="879.3" y="704.3" font-size="59.5" fill="#ff8000">800<tspan font-size="34" dy="-32.5">o</tspan><tspan dy="32.5">C</tspan></text>
<text x="866.8" y="990.5" font-size="59.5" fill="#008400">700<tspan font-size="34" dy="-32.5">o</tspan><tspan dy="32.5">C</tspan></text>
</svg></body></html>
